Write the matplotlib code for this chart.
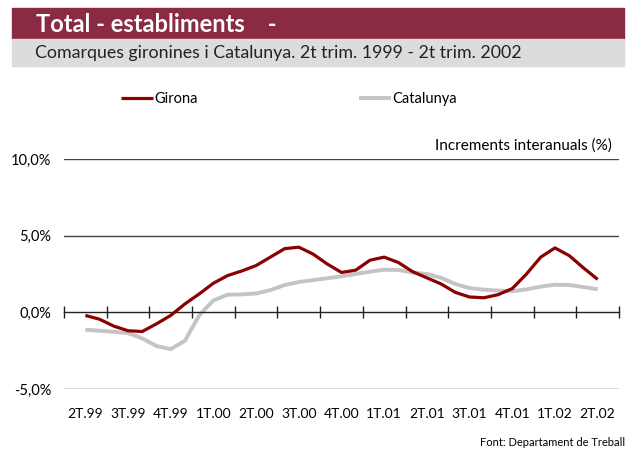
import numpy as np
import matplotlib
matplotlib.use("Agg")
import matplotlib.pyplot as plt
from matplotlib.patches import Rectangle

plt.rcParams['font.family'] = ['Lato', 'DejaVu Sans']

quarters = ["2T.99", "3T.99", "4T.99", "1T.00", "2T.00", "3T.00", "4T.00",
            "1T.01", "2T.01", "3T.01", "4T.01", "1T.02", "2T.02"]

# monthly interannual increments (%), 2T.99 .. 2T.02
girona = [-0.2, -0.45, -0.9, -1.2, -1.25, -0.75, -0.2, 0.55, 1.2, 1.9, 2.4, 2.7,
          3.05, 3.6, 4.15, 4.25, 3.8, 3.15, 2.6, 2.75, 3.4, 3.6, 3.25, 2.65,
          2.25, 1.85, 1.3, 1.0, 0.95, 1.15, 1.55, 2.5, 3.6, 4.2, 3.7, 2.9, 2.15]
catalunya = [-1.13, -1.2, -1.27, -1.35, -1.7, -2.2, -2.4, -1.85, -0.2, 0.78, 1.15, 1.17,
             1.23, 1.45, 1.78, 1.98, 2.1, 2.22, 2.35, 2.5, 2.65, 2.78, 2.76, 2.6,
             2.5, 2.25, 1.85, 1.58, 1.48, 1.42, 1.38, 1.5, 1.68, 1.8, 1.78, 1.65, 1.5]

yticks = [-5, 0, 5, 10]
ylabels = ["-5,0%", "0,0%", "5,0%", "10,0%"]

x = np.arange(len(girona)) / 3.0

fig = plt.figure(figsize=(6.37, 4.5), dpi=100)

# header bars
fig.patches.append(Rectangle((12/637, 1-39/450), 612/637, 31/450, transform=fig.transFigure,
                             color="#8a2a43", zorder=0))
fig.patches.append(Rectangle((12/637, 1-66/450), 612/637, 27/450, transform=fig.transFigure,
                             color="#dcdcde", zorder=0))
fig.text(36/637, 1-24/450, "Total - establiments    -", color="white", fontsize=17,
         fontweight="bold", va="center", ha="left")
fig.text(35/637, 1-53/450, "Comarques gironines i Catalunya. 2t trim. 1999 - 2t trim. 2002",
         color="#222222", fontsize=12.8, va="center", ha="left")

ax = fig.add_axes([64/637, 1-389/450, 555/637, 230/450])
ax.set_xlim(-0.5, 12.5)
ax.set_ylim(-5, 10)

for v in [10, 5, -5]:
    ax.axhline(v, color="#444444", lw=1.0, zorder=1)

lg, = ax.plot(x, girona, color="#8b0000", lw=2.3, solid_capstyle="butt", zorder=3)
lc, = ax.plot(x, catalunya, color="#c4c4c4", lw=2.8, solid_capstyle="butt", zorder=2)

for s in ["top", "right", "left"]:
    ax.spines[s].set_visible(False)
ax.spines["bottom"].set_position(("data", 0))
ax.spines["bottom"].set_color("#222222")
ax.spines["bottom"].set_linewidth(1.0)

ax.set_xticks(np.arange(len(quarters)))
ax.set_xticklabels(quarters, fontsize=10)
ax.tick_params(axis="x", which="major", length=0, pad=69)
ax.set_xticks(np.arange(-0.5, 13, 1), minor=True)
ax.tick_params(axis="x", which="minor", direction="inout", length=8, width=1, color="#222222")

ax.set_yticks(yticks)
ax.set_yticklabels(ylabels, fontsize=10.5)
ax.tick_params(axis="y", length=0, pad=9)

ax.text(1.0 - 7/555, 10.4, "Increments interanuals (%)", ha="right", va="bottom",
        fontsize=11, transform=ax.get_yaxis_transform())

fig.legend([lg, lc], ["Girona", "Catalunya"], loc="center left",
           bbox_to_anchor=(108/637, 1-99/450), ncol=2, frameon=False, fontsize=10.5,
           handlelength=2.2, handletextpad=0.1, columnspacing=11.0)

fig.text(625/637, 1-442/450, "Font: Departament de Treball", ha="right", va="center", fontsize=8)

fig.savefig("out.png", dpi=100)
